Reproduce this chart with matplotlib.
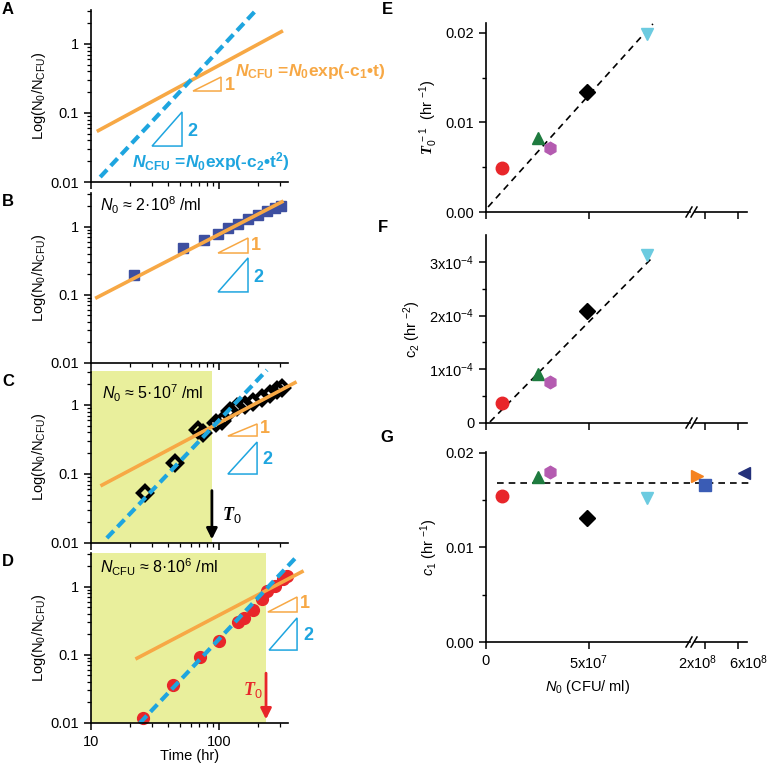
import matplotlib
matplotlib.use('Agg')
import matplotlib.pyplot as plt
import matplotlib.transforms as mtransforms
from matplotlib.patches import Polygon
from matplotlib.lines import Line2D
from matplotlib.ticker import LogLocator, NullFormatter

plt.rcParams['font.family'] = ['Liberation Sans', 'DejaVu Sans']
plt.rcParams['mathtext.fontset'] = 'custom'
plt.rcParams['mathtext.rm'] = 'Liberation Sans'
plt.rcParams['mathtext.it'] = 'Liberation Sans:italic'
plt.rcParams['mathtext.bf'] = 'Liberation Sans:bold'
plt.rcParams['mathtext.bfit'] = 'Liberation Sans:italic:bold'
plt.rcParams['mathtext.sf'] = 'Liberation Serif:italic:bold'

# ---- data ----
# panel A: model curves (time in hr)
a_lin_t = [11.1, 316]
a_lin_y = [0.054, 1.55]
a_sq_t = [11.8, 190]
a_sq_y = [0.0118, 2.93]

# panel B: N0 ~ 2e8 /ml
b_t = [21.7, 52, 76, 98, 117, 141, 169, 202, 237, 274, 305]
b_y = [0.195, 0.48, 0.63, 0.77, 0.94, 1.10, 1.31, 1.49, 1.71, 1.88, 2.01]
b_fit_t = [11.1, 310]
b_fit_y = [0.091, 2.3]

# panel C: N0 ~ 5e7 /ml
c_t = [26.4, 45.3, 68.5, 75, 95, 105, 122, 138, 160, 184, 217, 250, 284, 310]
c_y = [0.053, 0.144, 0.43, 0.39, 0.55, 0.59, 0.82, 0.94, 1.0, 1.10, 1.26, 1.44, 1.65, 1.76]
c_sq_t = [13.3, 237]
c_sq_y = [0.0118, 3.2]
c_lin_t = [12.2, 392]
c_lin_y = [0.069, 2.1]
c_T0 = 88

# panel D: N_CFU ~ 8e6 /ml
d_t = [25.5, 43.7, 71, 100, 141, 157, 184, 217, 237, 274, 316, 340]
d_y = [0.0118, 0.036, 0.092, 0.157, 0.30, 0.35, 0.45, 0.65, 0.87, 1.03, 1.31, 1.45]
d_sq_t = [24.1, 392]
d_sq_y = [0.01, 2.57]
d_lin_t = [22.9, 445]
d_lin_y = [0.089, 1.65]
d_T0 = 233

# panels E-G: per-experiment parameters vs N0
n0 = [8e6, 2.5e7, 3.1e7, 4.9e7, 7.8e7]
inv_T0 = [0.0049, 0.0083, 0.0071, 0.0134, 0.0199]
c2 = [0.37e-4, 0.91e-4, 0.76e-4, 2.09e-4, 3.13e-4]
c1 = [0.0154, 0.0175, 0.0180, 0.0131, 0.0152]
n0_high = [1.05e8, 2.0e8, 6.7e8]
c1_high = [0.01755, 0.0166, 0.0179]
e_fit_x = [0.1e7, 8.1e7]
e_fit_y = [0.00056, 0.0210]
f_fit_x = [0.19e7, 8.1e7]
f_fit_y = [0.02e-4, 3.09e-4]
c1_mean = 0.0168

colors = ['#e8262a', '#1e7b3f', '#b45bb0', 'black', '#6ccbe0']
markers = ['o', '^', 'h', 'D', 'v']
colors_high = ['#f58220', '#3a5cb5', '#23307a']
markers_high = ['>', 's', '<']

ORANGE = '#f7a845'
BLUE = '#1ea5df'
YELLOW = '#e9ef9c'

W, H = 769, 767
fig = plt.figure(figsize=(W / 100, H / 100), dpi=100)


def px_axes(l, t, r, b):
    return fig.add_axes([l / W, 1 - b / H, (r - l) / W, (b - t) / H])


def style_log(ax, xlabels=False):
    ax.set_xscale('log')
    ax.set_yscale('log')
    ax.set_xlim(10, 346)
    ax.set_ylim(0.01, 3.1)
    for s in ['top', 'right']:
        ax.spines[s].set_visible(False)
    for s in ['left', 'bottom']:
        ax.spines[s].set_linewidth(1.2)
    ax.set_yticks([0.01, 0.1, 1])
    ax.set_yticklabels(['0.01', '0.1', '1'])
    ax.yaxis.set_minor_locator(LogLocator(base=10, subs=range(2, 10)))
    ax.yaxis.set_minor_formatter(NullFormatter())
    ax.set_xticks([10, 100])
    ax.xaxis.set_minor_locator(LogLocator(base=10, subs=range(2, 10)))
    ax.xaxis.set_minor_formatter(NullFormatter())
    if xlabels:
        ax.set_xticklabels(['10', '100'])
    else:
        ax.set_xticklabels([])
    ax.tick_params(which='major', direction='out', length=5, width=1.1, labelsize=10.5)
    ax.tick_params(which='minor', direction='out', length=3, width=0.9)
    ax.set_ylabel(r'Log(N$_0$/N$_{\mathrm{CFU}}$)', fontsize=10.5, labelpad=2)


def slopes(ax, o, b, one, two):
    ax.add_patch(Polygon([o[0], o[1], (o[1][0], o[0][1])], closed=True, fill=False,
                         ec=ORANGE, lw=1.1, transform=ax.transAxes, clip_on=False))
    ax.add_patch(Polygon([b[0], b[1], (b[1][0], b[0][1])], closed=True, fill=False,
                         ec=BLUE, lw=1.1, transform=ax.transAxes, clip_on=False))
    ax.text(one[0], one[1], '1', color=ORANGE, fontsize=13, fontweight='bold',
            transform=ax.transAxes, ha='center', va='center')
    ax.text(two[0], two[1], '2', color=BLUE, fontsize=13, fontweight='bold',
            transform=ax.transAxes, ha='center', va='center')


dash = (2.4, 1.3)

# ---- A ----
axA = px_axes(91, 10, 288, 182)
style_log(axA)
axA.plot(a_lin_t, a_lin_y, color=ORANGE, lw=2.6, solid_capstyle='butt')
axA.plot(a_sq_t, a_sq_y, color=BLUE, lw=3, dashes=dash)
slopes(axA, [(0.518, 0.529), (0.660, 0.610)], [(0.310, 0.209), (0.462, 0.407)],
       (0.706, 0.560), (0.513, 0.291))
axA.text(0.731, 0.640,
         r'$\mathbfit{N}_{\mathbf{CFU}}$ =$\mathbfit{N}_{\mathbf{0}}$exp(-c$_{\mathbf{1}}$•t)',
         color=ORANGE, fontsize=12.5, fontweight='bold', transform=axA.transAxes,
         va='center', ha='left', clip_on=False)
axA.text(0.208, 0.116,
         r'$\mathbfit{N}_{\mathbf{CFU}}$ =$\mathbfit{N}_{\mathbf{0}}$exp(-c$_{\mathbf{2}}$•t$^{\mathbf{2}}$)',
         color=BLUE, fontsize=12.5, fontweight='bold', transform=axA.transAxes,
         va='center', ha='left', clip_on=False)

# ---- B ----
axB = px_axes(91, 193, 288, 363)
style_log(axB)
axB.plot(b_t, b_y, 's', color='#3d4fa0', ms=6.5, clip_on=False)
axB.plot(b_fit_t, b_fit_y, color=ORANGE, lw=2.6, clip_on=False)
slopes(axB, [(0.645, 0.647), (0.797, 0.735)], [(0.645, 0.418), (0.797, 0.618)],
       (0.838, 0.690), (0.848, 0.500))
axB.text(0.046, 0.929, r'$\mathit{N}_0$ ≈ 2·10$^8$ /ml', fontsize=11.5,
         transform=axB.transAxes, va='center', ha='left')

# ---- C ----
axC = px_axes(91, 371, 288, 543)
style_log(axC)
axC.axvspan(10, c_T0, color=YELLOW, zorder=0, lw=0)
axC.plot(c_t, c_y, 'D', mfc='none', mec='black', mew=3, ms=7, clip_on=False)
axC.plot(c_lin_t, c_lin_y, color=ORANGE, lw=2.6, clip_on=False)
axC.plot(c_sq_t, c_sq_y, color=BLUE, lw=3, dashes=dash, clip_on=False)
slopes(axC, [(0.695, 0.622), (0.843, 0.692)], [(0.695, 0.401), (0.843, 0.587)],
       (0.883, 0.665), (0.893, 0.483))
axC.text(0.056, 0.872, r'$\mathit{N}_0$ ≈ 5·10$^7$ /ml', fontsize=11.5,
         transform=axC.transAxes, va='center', ha='left')
axC.annotate('', xy=(c_T0, 0.0103), xytext=(c_T0, 0.063),
             arrowprops=dict(arrowstyle='-|>', color='black', lw=2, mutation_scale=16))
axC.text(0.665, 0.163, r'$\mathsf{T}_0$', fontsize=13, transform=axC.transAxes,
         va='center', ha='left')

# ---- D ----
axD = px_axes(91, 553, 288, 723)
style_log(axD, xlabels=True)
axD.axvspan(10, d_T0, color=YELLOW, zorder=0, lw=0)
axD.plot(d_t, d_y, 'o', color='#e8262a', ms=8.5, clip_on=False)
axD.plot(d_lin_t, d_lin_y, color=ORANGE, lw=2.6, clip_on=False)
axD.plot(d_sq_t, d_sq_y, color=BLUE, lw=3, dashes=dash, clip_on=False)
slopes(axD, [(0.898, 0.653), (1.046, 0.741)], [(0.904, 0.429), (1.046, 0.618)],
       (1.086, 0.700), (1.102, 0.512))
axD.text(0.046, 0.918, r'$\mathit{N}_{\mathrm{CFU}}$ ≈ 8·10$^6$ /ml', fontsize=11.5,
         transform=axD.transAxes, va='center', ha='left')
axD.annotate('', xy=(d_T0, 0.0103), xytext=(d_T0, 0.059),
             arrowprops=dict(arrowstyle='-|>', color='#e8262a', lw=2, mutation_scale=16))
axD.text(0.822, 0.194, r'$\mathsf{T}_0$', fontsize=13, color='#e8262a',
         transform=axD.transAxes, va='center', ha='center')
axD.set_xlabel('Time (hr)', fontsize=10.5, labelpad=0)


# ---- right column with broken x axis ----
def right_pair(t, b, ylim, yticks, ylabels, yminor, ylabel, xlabels=False):
    ax = px_axes(486, t, 690, b)
    ax2 = px_axes(695, t, 747, b)
    ax.set_xlim(0, 9.9e7)
    ax2.set_xlim(0.8e8, 7.1e8)
    for a in (ax, ax2):
        a.set_ylim(*ylim)
        for s in ['top', 'right']:
            a.spines[s].set_visible(False)
        for s in ['left', 'bottom']:
            a.spines[s].set_linewidth(1.2)
        a.tick_params(which='major', direction='out', length=5, width=1.1, labelsize=10.5)
        a.tick_params(which='minor', direction='out', length=3, width=1.0)
    ax2.spines['left'].set_visible(False)
    ax2.set_yticks([])
    ax.set_yticks(yticks)
    ax.set_yticklabels(ylabels)
    ax.set_yticks(yminor, minor=True)
    ax.set_xticks([0, 5e7])
    ax2.set_xticks([2e8, 6e8])
    if xlabels:
        ax.set_xticklabels(['0', r'5x10$^7$'])
        ax2.set_xticklabels([r'2x10$^8$', r'6x10$^8$'])
        for lab, dx in zip(ax2.get_xticklabels(), (-7, 11)):
            lab.set_transform(lab.get_transform() +
                              mtransforms.ScaledTranslation(dx / 100, 0, fig.dpi_scale_trans))
    else:
        ax.set_xticklabels([])
        ax2.set_xticklabels([])
    ax.set_ylabel(ylabel, fontsize=10.5)
    # break marks
    for dx in (-3, 2):
        x0, x1 = 689 + dx, 695 + dx
        fig.add_artist(Line2D([x0 / W, x1 / W], [1 - (b + 5) / H, 1 - (b - 5) / H],
                              color='black', lw=1.1))
    return ax, ax2


axE, axE2 = right_pair(23, 212, (0, 0.0211), [0, 0.01, 0.02], ['0.00', '0.01', '0.02'],
                       [0.005, 0.015], r'$\mathsf{T}_0^{\ -1}$  (hr $^{-1}$)')
for x, y, c, m in zip(n0, inv_T0, colors, markers):
    axE.plot(x, y, m, color=c, ms=9 if m != 'D' else 8, zorder=3)
axE.plot(e_fit_x, e_fit_y, color='black', lw=1.2, dashes=(4, 3), zorder=2)

axF, axF2 = right_pair(235, 423, (0, 3.5e-4), [0, 1e-4, 2e-4, 3e-4],
                       ['0', r'1x10$^{-4}$', r'2x10$^{-4}$', r'3x10$^{-4}$'],
                       [0.5e-4, 1.5e-4, 2.5e-4], r'c$_2$ (hr $^{-2}$)')
for x, y, c, m in zip(n0, c2, colors, markers):
    axF.plot(x, y, m, color=c, ms=9 if m != 'D' else 8, zorder=3)
axF.plot(f_fit_x, f_fit_y, color='black', lw=1.2, dashes=(4, 3), zorder=2)

axG, axG2 = right_pair(452, 642, (0, 0.0201), [0, 0.01, 0.02], ['0.00', '0.01', '0.02'],
                       [0.005, 0.015], r'$\mathit{c}_\mathit{1}$ (hr $^{-1}$)', xlabels=True)
for x, y, c, m in zip(n0, c1, colors, markers):
    axG.plot(x, y, m, color=c, ms=9 if m != 'D' else 8, zorder=3)
for x, y, c, m in zip(n0_high, c1_high, colors_high, markers_high):
    axG2.plot(x, y, m, color=c, ms=9 if m != 's' else 8, zorder=3, clip_on=False)
axG.plot([0.53e7, 9.9e7], [c1_mean, c1_mean], color='black', lw=1.2, dashes=(4, 3), zorder=2)
axG2.plot([0.8e8, 7.8e8], [c1_mean, c1_mean], color='black', lw=1.2, dashes=(4, 3),
          zorder=2, clip_on=False)
axG.set_xlabel(r'$\mathit{N}_0$ (CFU/ ml)', fontsize=10.5, labelpad=4)
axG.xaxis.set_label_coords((588 - 486) / 204, -0.19)

# panel letters
for letter, x, y in [('A', 2, 10), ('B', 2, 202), ('C', 2, 381), ('D', 2, 562),
                     ('E', 382, 10), ('F', 378, 228), ('G', 380, 437)]:
    fig.text(x / W, 1 - y / H, letter, fontsize=12, fontweight='bold', va='center', ha='left')

fig.savefig('out.png', dpi=100)
